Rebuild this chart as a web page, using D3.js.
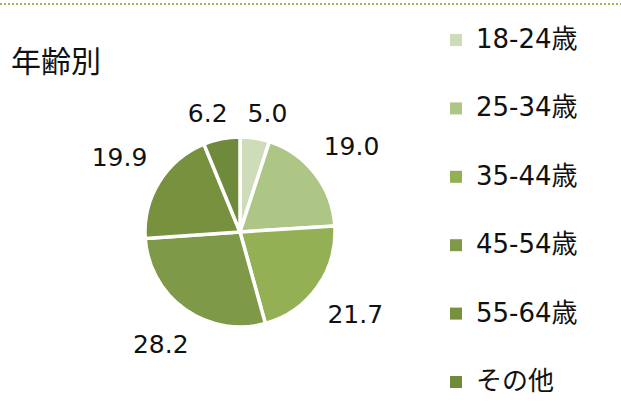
<!DOCTYPE html>
<html><head><meta charset="utf-8">
<script src="https://cdn.jsdelivr.net/npm/d3@7"></script>
<style>html,body{margin:0;padding:0;background:#fff;}</style>
</head><body>
<svg id="chart" width="621" height="414"></svg>
<script>
const title = "年齢別";
const categories = ["18-24歳", "25-34歳", "35-44歳", "45-54歳", "55-64歳", "その他"];
const values = [5.0, 19.0, 21.7, 28.2, 19.9, 6.2];
const colors = ["#cfdcb9", "#adc686", "#93b055", "#7e9947", "#77913f", "#6f8a3b"];

const W = 621, H = 414;
const svg = d3.select("#chart");
const latin = "'DejaVu Sans', 'Noto Sans CJK JP', sans-serif";
const cjk = "'Noto Sans CJK JP', sans-serif";

// top dotted rule
svg.append("line").attr("x1", 0).attr("x2", W).attr("y1", 4).attr("y2", 4)
  .attr("stroke", "#9bbb59").attr("stroke-width", 2).attr("stroke-dasharray", "2,2");

// title
svg.append("text").attr("x", 11).attr("y", 72).text(title)
  .attr("font-family", cjk).attr("font-size", 30).attr("fill", "#111");

// pie
const cx = 240, cy = 232, R = 95;
const pie = d3.pie().sort(null).value(d => d)(values);
const arc = d3.arc().innerRadius(0).outerRadius(R);
const g = svg.append("g").attr("transform", `translate(${cx},${cy})`);
g.selectAll("path").data(pie).join("path")
  .attr("d", arc).attr("fill", (d, i) => colors[i])
  .attr("stroke", "#fff").attr("stroke-width", 3.5).attr("stroke-linejoin", "round");

// labels outside end
const fs = 25;
const boxes = [];
g.selectAll("text.lbl").data(pie).join("text").attr("class", "lbl")
  .attr("font-family", latin).attr("font-size", fs).attr("fill", "#111")
  .attr("text-anchor", "middle")
  .text(d => d.data.toFixed(1))
  .each(function(d) {
    const a = (d.startAngle + d.endAngle) / 2;
    const bw = this.getComputedTextLength();
    const bh = fs * 0.8;
    const s = Math.sin(a), c = -Math.cos(a);
    const dist = R + 18 + Math.abs(s) * bw / 2 + Math.abs(c) * bh / 2;
    boxes.push({ el: this, x: s * dist, y: c * dist, w: bw, h: bh });
  });
// resolve overlaps by pushing labels apart horizontally
for (let k = 0; k < 5; k++) {
  for (let i = 0; i < boxes.length; i++) {
    for (let j = i + 1; j < boxes.length; j++) {
      const A = boxes[i], B = boxes[j];
      const needX = (A.w + B.w) / 2 + 20;
      if (Math.abs(A.y - B.y) < (A.h + B.h) / 2 && Math.abs(A.x - B.x) < needX) {
        const mid = (A.x + B.x) / 2, sgn = A.x >= B.x ? 1 : -1;
        A.x = mid + sgn * needX / 2; B.x = mid - sgn * needX / 2;
        A.y += 5; B.y += 5;
      }
    }
  }
}
boxes.forEach(b => d3.select(b.el).attr("x", b.x).attr("y", b.y + fs * 0.36));

// legend
const ly0 = 40, lstep = 68.4;
const leg = svg.append("g");
categories.forEach((name, i) => {
  const y = ly0 + i * lstep;
  leg.append("rect").attr("x", 450).attr("y", y - 6).attr("width", 12).attr("height", 12)
    .attr("fill", colors[i]);
  leg.append("text").attr("x", 476).attr("y", y + 8).text(name)
    .attr("font-family", latin).attr("font-size", 26).attr("fill", "#111");
});
</script>
</body></html>
